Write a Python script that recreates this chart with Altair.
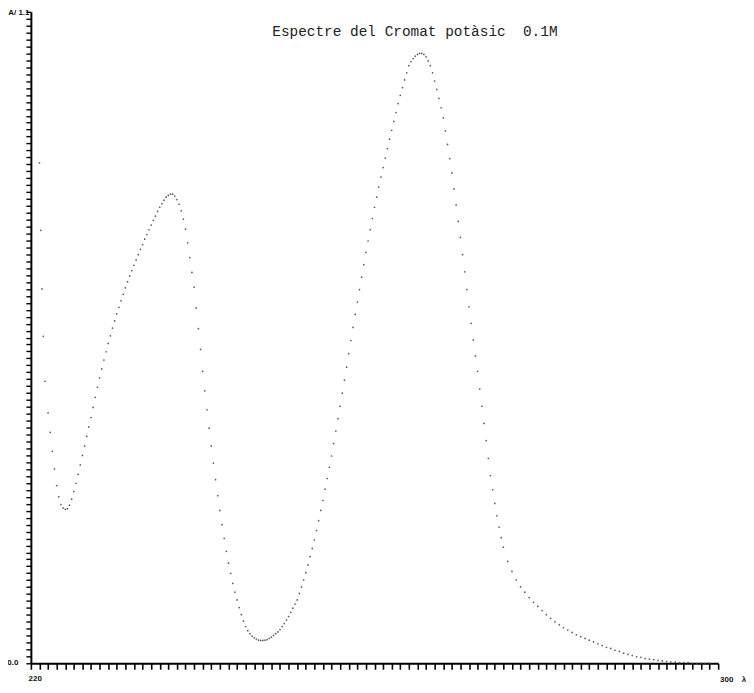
import altair as alt
import numpy as np
import pandas as pd

# ---- data ----
start_wl = [221.0, 221.15, 221.3, 221.45, 221.65]
start_abs = [0.845, 0.731, 0.632, 0.552, 0.476]

# 222.0 .. 275.0 nm, every 0.25 nm
fine_abs = [
    0.423, 0.390, 0.358, 0.328,
    0.300, 0.281, 0.268, 0.262,
    0.260, 0.261, 0.267, 0.277,
    0.290, 0.304, 0.319, 0.335,
    0.351, 0.367, 0.383, 0.399,
    0.415, 0.432, 0.449, 0.466,
    0.482, 0.497, 0.512, 0.526,
    0.540, 0.553, 0.566, 0.578,
    0.590, 0.601, 0.612, 0.623,
    0.634, 0.644, 0.654, 0.663,
    0.672, 0.681, 0.690, 0.699,
    0.707, 0.716, 0.724, 0.732,
    0.740, 0.748, 0.755, 0.763,
    0.770, 0.776, 0.782, 0.787,
    0.790, 0.792, 0.792, 0.789,
    0.783, 0.775, 0.764, 0.750,
    0.733, 0.710, 0.685, 0.660,
    0.635, 0.600, 0.565, 0.530,
    0.493, 0.460, 0.428, 0.397,
    0.367, 0.338, 0.310, 0.283,
    0.258, 0.234, 0.211, 0.189,
    0.169, 0.152, 0.135, 0.120,
    0.107, 0.094, 0.082, 0.071,
    0.062, 0.055, 0.050, 0.046,
    0.043, 0.041, 0.039, 0.0385,
    0.0385, 0.039, 0.040, 0.042,
    0.044, 0.047, 0.050, 0.053,
    0.057, 0.062, 0.067, 0.073,
    0.079, 0.086, 0.093, 0.100,
    0.107, 0.118, 0.129, 0.141,
    0.153, 0.166, 0.180, 0.194,
    0.208, 0.224, 0.241, 0.258,
    0.275, 0.294, 0.312, 0.331,
    0.350, 0.371, 0.392, 0.413,
    0.434, 0.456, 0.478, 0.500,
    0.523, 0.545, 0.567, 0.589,
    0.610, 0.631, 0.652, 0.673,
    0.694, 0.713, 0.732, 0.751,
    0.770, 0.787, 0.804, 0.821,
    0.837, 0.853, 0.869, 0.885,
    0.900, 0.915, 0.930, 0.945,
    0.959, 0.972, 0.985, 0.997,
    1.009, 1.016, 1.021, 1.025,
    1.028, 1.030, 1.030, 1.028,
    1.024, 1.017, 1.009, 0.997,
    0.983, 0.969, 0.954, 0.938,
    0.921, 0.899, 0.876, 0.852,
    0.828, 0.801, 0.774, 0.746,
    0.719, 0.690, 0.661, 0.631,
    0.602, 0.574, 0.546, 0.519,
    0.493, 0.463, 0.434, 0.405,
    0.376, 0.346, 0.317, 0.293,
    0.270, 0.249, 0.230, 0.212,
    0.196,
]

# 275.5 .. 299.0 nm, every 0.5 nm
tail_abs = [
    0.172, 0.155, 0.141, 0.129, 0.120, 0.111, 0.103, 0.096, 0.089, 0.082,
    0.076, 0.070, 0.065, 0.060, 0.056, 0.052, 0.048, 0.045, 0.042, 0.039,
    0.036, 0.033, 0.030, 0.027, 0.025, 0.022, 0.020, 0.017, 0.015, 0.013,
    0.011, 0.010, 0.008, 0.007, 0.006, 0.005, 0.004, 0.003, 0.002, 0.002,
    0.001, 0.001, 0.001, 0.000, 0.000, 0.000, 0.000, 0.000,
]

fine_wl = list(np.round(np.arange(222.0, 275.001, 0.25), 2))
tail_wl = list(np.round(np.arange(275.5, 299.001, 0.5), 2))
assert len(fine_wl) == len(fine_abs)
assert len(tail_wl) == len(tail_abs)

wl = start_wl + fine_wl + tail_wl
absorb = start_abs + fine_abs + tail_abs

x_ticks = list(range(220, 301))
y_ticks = [round(i * 1.1 / 94, 5) for i in range(95)]

title_text = "Espectre del Cromat potàsic\u00a0 0.1M"
axis_texts = ["0.0", "A/ 1.1", "220", "300", "λ"]
axis_text_x = [217.9, 218.6, 220.5, 301.0, 303.0]
axis_text_y = [0.0, 1.098, -0.026, -0.028, -0.028]

# ---- chart ----
df = pd.DataFrame({"wl": wl, "A": absorb})
xs = alt.Scale(domain=[220, 300], nice=False, zero=False)
ys = alt.Scale(domain=[0, 1.1], nice=False, zero=False)

common_axis = dict(labels=False, title=None, grid=False, tickColor="black",
                   domainColor="black", domainWidth=2)

points = alt.Chart(df).mark_circle(size=3, color="#4a4a4a", opacity=0.9).encode(
    x=alt.X("wl:Q", scale=xs,
            axis=alt.Axis(values=x_ticks, tickCount=200, tickSize=6,
                          tickWidth=1.6, **common_axis)),
    y=alt.Y("A:Q", scale=ys,
            axis=alt.Axis(values=y_ticks, tickCount=200, tickSize=5,
                          tickWidth=1.4, **common_axis)),
)

lab_df = pd.DataFrame({"t": axis_texts, "x": axis_text_x, "y": axis_text_y})
labels = alt.Chart(lab_df).mark_text(
    font="Liberation Sans", fontSize=8, fontWeight="bold", color="#111",
    align="center", baseline="middle",
).encode(x=alt.X("x:Q", scale=xs), y=alt.Y("y:Q", scale=ys), text="t:N")

title_df = pd.DataFrame({"t": [title_text], "x": [264.7], "y": [1.066]})
title = alt.Chart(title_df).mark_text(
    font="Liberation Mono", fontSize=14.5, color="#222",
    align="center", baseline="middle",
).encode(x=alt.X("x:Q", scale=xs), y=alt.Y("y:Q", scale=ys), text="t:N")

chart = (points + labels + title).properties(
    width=691, height=655,
    autosize=alt.AutoSizeParams(type="none"),
    padding={"left": 23, "top": 2, "right": 28, "bottom": 20},
    background="white",
).configure_view(stroke=None)

chart.save("out.html", embed_options={"renderer": "svg", "actions": False})
